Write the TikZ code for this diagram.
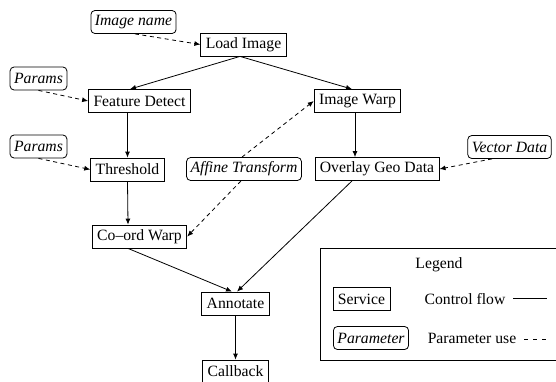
\documentclass[tikz,border=0pt]{standalone}
\usepackage{fontspec}
\setmainfont{Liberation Serif}
\usetikzlibrary{arrows.meta,calc}
\begin{document}
\begin{tikzpicture}[x=1pt,y=-1pt,
  font=\fontsize{15.7}{18}\selectfont,
  line width=0.8pt,
  svc/.style={draw,rectangle,fill=white,minimum height=23pt,inner xsep=5pt,inner ysep=0pt},
  par/.style={draw,rectangle,rounded corners=4pt,fill=white,minimum height=23pt,inner xsep=4pt,inner ysep=0pt,font=\fontsize{15.7}{18}\selectfont\itshape},
  cf/.style={-{Latex[length=6pt,width=5pt]}},
  pu/.style={-{Latex[length=6pt,width=5pt]},dash pattern=on 4pt off 3.5pt},
]
\useasboundingbox (0,0) rectangle (556,381);
% legend
\draw (320,248) rectangle (560,360);
\node (legtitle) at (439,265) {Legend};
\node[svc] (legsvc) at (361.5,299) {Service};
\node (legcf) at (465,299) {Control flow};
\coordinate (cfa) at (513,298);
\coordinate (cfb) at (547,298);
\draw (cfa) -- (cfb);
\node[par] (legpar) at (371,338) {Parameter};
\node (legpu) at (472,338) {Parameter use};
\coordinate (pua) at (524,339);
\coordinate (pub) at (547,339);
\draw[dash pattern=on 4pt off 5pt] (pua) -- (pub);
% nodes
\node[par] (imgname) at (133.5,22) {Image name};
\node[svc] (load) at (243.5,44.5) {Load Image};
\node[par] (params1) at (38.5,78.5) {Params};
\node[svc] (fd) at (139.5,101) {Feature Detect};
\node[svc] (iw) at (357.5,101) {Image Warp};
\node[par] (params2) at (38.5,146.5) {Params};
\node[svc] (thr) at (127.5,169.5) {Threshold};
\node[par] (aff) at (244,169) {Affine Transform};
\node[svc] (ogd) at (377,169) {Overlay Geo Data};
\node[par] (vd) at (509.5,147) {Vector Data};
\node[svc] (cw) at (139.5,236.5) {Co--ord Warp};
\node[svc] (ann) at (235.5,303.5) {Annotate};
\node[svc] (cb) at (235.5,371.5) {Callback};
% parameter edges
\draw[pu] ($(imgname.south)+(1.5,0)$) -- (load.west);
\draw[pu] (params1.south) -- (fd.west);
\draw[pu] (params2.south) -- (thr.west);
\draw[pu] ($(vd.south)+(-17.5,0)$) -- (ogd.east);
\draw[pu] ($(aff.north)+(-2,0)$) -- (iw.west);
\draw[pu] ($(aff.south)+(-3,0)$) -- (cw.east);
% control edges
\draw[cf] ($(load.south)+(-3.5,0)$) -- ($(fd.north)+(-9.5,0)$);
\draw[cf] ($(load.south)+(-3.5,0)$) -- ($(iw.north)+(-5.5,0)$);
\draw[cf] ($(fd.south)+(-12,0)$) -- (thr.north);
\draw[cf] (thr.south) -- ($(cw.north)+(-11.5,0)$);
\draw[cf] ($(iw.south)+(-2.5,0)$) -- ($(ogd.north)+(-22,0)$);
\draw[cf] ($(cw.south)+(-11.5,0)$) -- ($(ann.north)+(-3.5,0)$);
\draw[cf] ($(ogd.south)+(-25,0)$) -- ($(ann.north)+(1.5,0)$);
\draw[cf] (ann.south) -- (cb.north);
\end{tikzpicture}
\end{document}
